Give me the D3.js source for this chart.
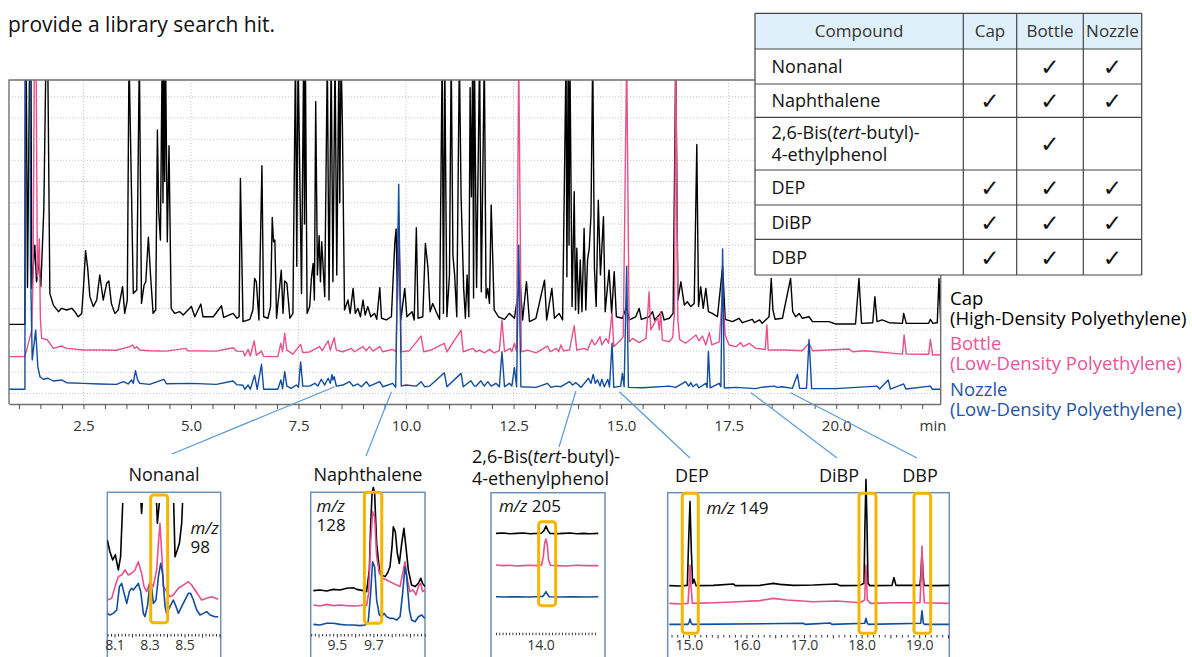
<!DOCTYPE html>
<html><head><meta charset="utf-8">
<script src="https://cdn.jsdelivr.net/npm/d3@7"></script>
<style>
body{margin:0;background:#fff;}
svg{display:block;font-family:"Open Sans","Noto Sans",sans-serif;}
</style></head><body>
<svg id="c" width="1192" height="657"></svg>
<script>
// ---------------- DATA ----------------
// Main TIC chromatograms: [retention time (min), relative intensity]
const capTrace = [[0.77,32.6],[1.14,32.6],[1.15,160],[1.17,160],[1.20,50],[1.25,160],[1.28,160],[1.30,49.6],[1.37,70],[1.41,52.7],[1.47,62.2],[1.51,50.4],[1.58,87.3],[1.63,160],[1.67,160],[1.72,47.2],[1.80,41.7],[1.92,38.6],[1.99,40.2],[2.11,39.4],[2.23,40.2],[2.30,38.6],[2.38,36.2],[2.46,37.8],[2.50,49.6],[2.55,67.4],[2.60,59],[2.65,45.7],[2.73,41],[2.81,44.1],[2.88,55.9],[2.96,44.1],[3.04,52],[3.09,53.1],[3.15,42.5],[3.23,37.8],[3.31,39.4],[3.41,50.4],[3.46,37.8],[3.52,44.1],[3.56,160],[3.66,47.2],[3.74,48.8],[3.80,160],[3.85,42.5],[3.91,51.2],[3.95,52.7],[4.01,73.7],[4.06,55.9],[4.12,37.8],[4.18,39.4],[4.22,124.3],[4.25,85.8],[4.29,72.4],[4.33,160],[4.35,90],[4.37,160],[4.39,100],[4.41,160],[4.45,71.6],[4.49,116.9],[4.54,40.2],[4.62,37.8],[4.74,38.6],[4.82,37],[5.01,41],[5.09,36.2],[5.23,42.2],[5.28,36.2],[5.52,36.2],[5.71,41.4],[5.76,35.9],[5.98,37.8],[6.07,35.5],[6.12,36.2],[6.15,101.5],[6.21,33.9],[6.37,35],[6.44,39.4],[6.48,54.3],[6.52,52.7],[6.58,34.7],[6.65,107.5],[6.69,36.2],[6.79,35.5],[6.85,41],[6.89,83.1],[6.92,71.6],[6.95,72.4],[6.99,35.5],[7.10,58.2],[7.14,37.8],[7.18,53.1],[7.23,52],[7.30,35.5],[7.37,37.8],[7.43,160],[7.46,60],[7.49,160],[7.57,47.2],[7.62,160],[7.64,80],[7.66,160],[7.70,37.8],[7.76,41],[7.80,54.3],[7.84,61.4],[7.87,44.1],[7.90,137.7],[7.94,55.9],[7.98,74.5],[8.01,52.7],[8.04,71.6],[8.07,60.6],[8.11,45.7],[8.17,160],[8.21,44.1],[8.26,160],[8.30,52.7],[8.35,160],[8.39,55.9],[8.44,160],[8.46,90],[8.49,160],[8.52,128.2],[8.57,39.4],[8.65,44.1],[8.70,37.8],[8.77,49.6],[8.82,37.8],[8.88,40.2],[8.94,36.2],[9.00,44.1],[9.05,37],[9.11,41],[9.18,36.2],[9.27,37.8],[9.32,35],[9.39,49.9],[9.43,35.5],[9.54,34.7],[9.66,36.2],[9.74,71.6],[9.77,77.6],[9.80,44.1],[9.83,76.3],[9.88,34.7],[9.97,49.6],[10.02,36.2],[10.14,38.6],[10.19,34.7],[10.24,78.2],[10.28,35.5],[10.39,36.2],[10.45,70.8],[10.51,59.3],[10.56,38.6],[10.62,42.5],[10.70,38.6],[10.78,35],[10.84,160],[10.87,37.8],[10.90,160],[10.95,36.2],[11.01,55.9],[11.05,160],[11.09,65.3],[11.13,55.9],[11.18,36.2],[11.24,160],[11.28,92.8],[11.34,49.6],[11.38,35.5],[11.42,55.9],[11.46,36.2],[11.49,144.3],[11.52,92.8],[11.55,160],[11.57,45],[11.59,160],[11.64,50],[11.71,160],[11.75,48],[11.82,160],[11.86,45],[11.90,49.6],[11.94,42.5],[11.98,88.9],[12.05,39.4],[12.15,36.2],[12.29,35],[12.40,37.8],[12.52,35.5],[12.65,53.5],[12.71,34.7],[12.80,52.7],[12.87,33.9],[13.02,35.5],[13.22,53.5],[13.27,34.7],[13.39,49.6],[13.45,35.5],[13.56,37.8],[13.64,34.7],[13.72,160],[13.74,55.1],[13.77,160],[13.79,70],[13.81,160],[13.86,41],[13.91,95.2],[13.94,39.4],[13.97,68.5],[14.01,37.8],[14.05,63],[14.09,38.6],[14.14,77.9],[14.18,39.4],[14.22,63],[14.26,68.5],[14.30,84.2],[14.34,160],[14.38,59],[14.42,41],[14.47,91.2],[14.52,55.9],[14.59,83.4],[14.63,38.6],[14.72,58.3],[14.78,37.8],[14.84,57.5],[14.89,36.2],[15.03,35.5],[15.13,41],[15.19,34.7],[15.34,36.2],[15.42,40.2],[15.47,35],[15.65,36.2],[15.73,38.6],[15.78,34.7],[15.95,38.6],[16.00,34.7],[16.12,35.5],[16.21,37.8],[16.27,160],[16.32,44.1],[16.39,52.7],[16.47,41.7],[16.54,43.3],[16.62,41],[16.70,42.5],[16.76,117.5],[16.80,41],[16.85,50.4],[16.91,40.2],[16.97,49.6],[17.03,38.6],[17.12,37.8],[17.24,36.2],[17.36,60],[17.42,35],[17.59,33.9],[17.74,35.5],[17.82,33.4],[18.05,35],[18.10,33.4],[18.22,34.7],[18.28,33.1],[18.44,36.2],[18.49,54.3],[18.53,39.4],[18.58,35],[18.75,35.5],[18.94,54.3],[18.99,38.6],[19.06,36.2],[19.14,37.8],[19.21,35.5],[19.37,36.2],[19.45,33.9],[19.83,33.9],[19.99,32.8],[20.45,32.8],[20.53,54.3],[20.59,33.1],[20.85,33.4],[20.90,45.7],[20.95,33.9],[21.07,34.7],[21.23,33.4],[21.54,33.1],[21.57,37.8],[21.63,33.1],[22.15,33.1],[22.19,35],[22.25,33.1],[22.35,33.4],[22.39,54.3],[22.43,33]];

const bottleTrace = [[0.77,17.4],[1.14,17.4],[1.20,22],[1.30,30],[1.33,55],[1.36,160],[1.40,160],[1.43,55],[1.475,73],[1.50,35],[1.53,26],[1.65,25.5],[1.72,23.7],[1.80,21.3],[1.99,22.4],[2.11,21.3],[2.50,20.5],[2.88,20.5],[3.27,20.4],[3.58,22.1],[3.64,22.9],[3.69,21.3],[3.74,22.1],[3.81,20.5],[4.04,20.2],[4.43,20],[4.88,21.3],[4.93,20.2],[5.59,20],[5.98,21.6],[6.06,20],[6.21,19.9],[6.25,17.7],[6.33,20.8],[6.38,17.7],[6.47,24.8],[6.52,18],[6.64,20],[6.69,17.5],[7.02,17.4],[7.09,23.7],[7.13,19.7],[7.18,28.4],[7.23,20.5],[7.37,18.6],[7.55,23.2],[7.60,19.3],[7.76,19.6],[7.99,22.1],[8.05,20.2],[8.19,24.8],[8.24,20.5],[8.33,26.3],[8.38,20.5],[8.53,19.7],[8.73,21.3],[8.80,19.7],[9.00,22.1],[9.07,20.2],[9.15,22.1],[9.23,20],[9.39,22.1],[9.46,19.7],[9.69,20.8],[9.77,19.7],[9.83,85],[9.89,19.7],[10.08,20.2],[10.35,27.1],[10.41,19.7],[10.58,20.5],[10.89,23.7],[10.95,19.7],[11.28,29.9],[11.33,19.7],[11.55,21.3],[11.63,19.7],[11.71,20.5],[11.82,19.2],[11.94,20.8],[12.05,19.2],[12.17,20.2],[12.23,34.7],[12.29,19.7],[12.42,21.3],[12.46,19.7],[12.52,23.7],[12.57,19.7],[12.62,160],[12.68,19.7],[12.83,20.5],[13.02,19.2],[13.29,22.4],[13.35,19.7],[13.49,21.3],[13.55,19.7],[13.60,22.9],[13.66,20.2],[13.80,20.5],[13.91,32],[13.97,20.5],[14.14,21.3],[14.22,20.5],[14.32,25.5],[14.38,22.9],[14.42,23.7],[14.51,26.8],[14.55,22.9],[14.65,26],[14.71,23.7],[14.79,37.8],[14.83,22.1],[14.99,25.2],[15.05,26.8],[15.13,160],[15.19,24.4],[15.27,26],[15.42,24],[15.58,26],[15.62,37.8],[15.65,48],[15.69,30],[15.77,33.1],[15.85,35.9],[15.89,30],[15.92,38.6],[15.96,25.2],[16.12,24.4],[16.20,26.5],[16.24,37.8],[16.27,160],[16.32,34.7],[16.36,25.5],[16.50,23.7],[16.74,27.6],[16.81,24.9],[16.89,27.1],[16.97,22.9],[17.05,28.7],[17.11,22.9],[17.28,24.4],[17.36,48],[17.42,27.6],[17.51,22.9],[17.67,22.1],[17.78,24],[17.84,22.1],[17.98,23.7],[18.13,21.3],[18.35,20.8],[18.39,32.3],[18.42,20.5],[18.83,20.5],[19.21,20.2],[19.37,23.7],[19.45,20.2],[20.30,21],[20.38,19.7],[20.68,20.2],[21.54,18.6],[21.58,27.6],[21.63,18.6],[22.15,18.5],[22.19,25.5],[22.24,18.2],[22.43,18.3]];

const nozzleTrace = [[0.77,2],[1.14,2],[1.15,160],[1.26,160],[1.27,60],[1.31,15.8],[1.39,29.9],[1.44,12.7],[1.49,7.9],[1.57,6.7],[1.68,7.2],[1.80,5.9],[1.99,6.4],[2.11,5.1],[2.50,4.8],[2.88,4.5],[3.27,4.3],[3.43,5.6],[3.54,4.5],[3.62,6.4],[3.66,4.8],[3.71,10.8],[3.76,6.4],[3.81,4.8],[4.04,4.3],[4.37,6.7],[4.43,4.6],[5.01,4.8],[5.59,4.3],[5.98,5.9],[6.06,4.2],[6.21,3.9],[6.25,2],[6.33,4],[6.38,2],[6.48,8.6],[6.54,2],[6.64,13.8],[6.69,2],[7.02,2],[7.09,6.4],[7.13,2.3],[7.18,10.3],[7.23,3.5],[7.33,2.4],[7.45,4],[7.50,2.9],[7.55,14.9],[7.60,3.5],[7.76,3.5],[7.88,4.8],[7.95,3.5],[8.03,6.7],[8.11,4],[8.19,7.2],[8.24,4.8],[8.28,9],[8.30,6.4],[8.33,7.9],[8.38,3.5],[8.53,4],[8.69,5.6],[8.77,3.5],[8.88,4.5],[8.96,3.2],[9.08,5.6],[9.15,3.5],[9.39,5.6],[9.46,3.2],[9.69,4.8],[9.76,2.9],[9.83,98.8],[9.89,3.5],[10.00,4],[10.24,3.5],[10.35,5.6],[10.43,3.2],[10.55,3.5],[10.89,9.8],[10.95,3.2],[11.28,9.5],[11.33,3.2],[11.51,6],[11.59,3.5],[11.63,3.5],[11.74,6],[11.82,3.5],[11.90,5.6],[11.98,3.5],[12.09,4.8],[12.17,3.2],[12.23,19.7],[12.29,3.2],[12.40,4.8],[12.46,3.5],[12.52,12.3],[12.57,3.2],[12.62,70],[12.67,3.2],[13.02,2.9],[13.29,4.8],[13.37,2.9],[13.49,3.5],[13.60,3.2],[13.80,5.6],[13.87,4],[13.95,5.1],[14.07,2.9],[14.24,7.2],[14.30,4.8],[14.35,9],[14.40,4.8],[14.45,6.4],[14.51,3.5],[14.55,6.7],[14.61,3.2],[14.69,6.7],[14.73,3.2],[14.79,23.7],[14.83,2.9],[14.99,3.5],[15.03,9.5],[15.07,3.2],[15.13,60],[15.17,2.9],[15.50,2.7],[16.12,3.5],[16.27,2.9],[16.50,5.6],[16.57,3.5],[16.62,5.1],[16.67,3.2],[16.75,4.5],[16.81,2.7],[16.97,4.8],[17.00,2.9],[17.03,20],[17.07,2.7],[17.28,4.8],[17.32,3.2],[17.36,68.2],[17.40,2.6],[17.67,2.9],[18.13,2.3],[18.25,2.9],[18.56,3.5],[18.63,2.9],[18.75,3.2],[18.98,2.4],[19.10,9],[19.15,2.4],[19.31,2.4],[19.37,25.5],[19.43,2.3],[19.99,2.3],[20.95,3.5],[21.01,2.1],[21.21,6.4],[21.26,2.1],[21.57,4.5],[21.62,2.1],[22.19,3.5],[22.24,2],[22.43,2]];

const mainMinorTicks = d3.range(1.0, 22.01, 0.5);
const mainTickLabels = [2.5, 5.0, 7.5, 10.0, 12.5, 15.0, 17.5, 20.0];
const gridLevels = [0,10,20,30,40,50,60,70,80,90,100,110,120,130,140];

const seriesNames = ["Cap", "Bottle", "Nozzle"];
const seriesMaterials = ["(High-Density Polyethylene)", "(Low-Density Polyethylene)", "(Low-Density Polyethylene)"];

// Table
const tableHeader = ["Compound", "Cap", "Bottle", "Nozzle"];
const tableCompounds = ["Nonanal", "Naphthalene", "2,6-Bis(tert-butyl)-\n4-ethylphenol", "DEP", "DiBP", "DBP"];
const capFound    = [0, 1, 0, 1, 1, 1];
const bottleFound = [1, 1, 1, 1, 1, 1];
const nozzleFound = [1, 1, 0, 1, 1, 1];

// Callouts: retention time at which each callout leaves the main chart, and level
const calloutTimes  = [8.34, 9.66, 13.95, 14.96, 18.02, 18.94];
const calloutLevels = [3.2, 0.8, 1.2, 0.8, 0.4, 0.4];
const insetTitles = ["Nonanal", "Naphthalene", "2,6-Bis(tert-butyl)-\n4-ethenylphenol", "DEP", "DiBP", "DBP"];

// Inset 1: Nonanal, m/z 98
const nonanalMz = "98";
const nonanalCap = [[8.056,64.3],[8.071,55.9],[8.087,50],[8.102,53.6],[8.119,42.9],[8.132,52.4],[8.144,90.5],[8.151,102.4],[8.243,102.4],[8.252,83.3],[8.262,102.4],[8.334,102.4],[8.342,76.2],[8.353,90.5],[8.361,102.4],[8.433,102.4],[8.443,52.4],[8.456,57.1],[8.468,61.9],[8.481,76.2],[8.49,102.4]];
const nonanalBottle = [[8.056,21.4],[8.081,22.6],[8.100,31],[8.119,38.1],[8.138,39.3],[8.157,42.9],[8.176,39.3],[8.195,40.5],[8.214,42.9],[8.233,48.8],[8.252,40.5],[8.266,31],[8.281,27.4],[8.300,34.5],[8.319,31],[8.338,42.9],[8.348,61.9],[8.357,76.2],[8.367,54.8],[8.376,31],[8.395,27.4],[8.414,23.8],[8.433,25],[8.462,29.8],[8.490,32.1],[8.519,34.5],[8.538,32.1],[8.557,28.6],[8.576,25],[8.595,21.4],[8.624,22.6],[8.653,23.8],[8.690,21.9]];
const nonanalNozzle = [[8.056,11.9],[8.071,10.7],[8.090,11.9],[8.110,14.3],[8.125,31],[8.138,33.3],[8.152,26.2],[8.167,19],[8.182,27.4],[8.195,29.8],[8.205,28.6],[8.220,31],[8.233,33.3],[8.247,27.4],[8.262,11.9],[8.271,9.5],[8.285,16.7],[8.300,33.3],[8.310,29.8],[8.319,19],[8.334,21.4],[8.348,38.1],[8.361,47.6],[8.372,40.5],[8.386,16.7],[8.395,11.9],[8.414,16.7],[8.433,21.4],[8.449,16.7],[8.462,11.9],[8.490,19],[8.519,26.2],[8.532,26.2],[8.548,21.4],[8.567,14.3],[8.586,10.7],[8.605,11.9],[8.624,13.1],[8.643,10.7],[8.671,9.5],[8.690,9.5]];
const nonanalWindow = [8.304, 8.401];
const nonanalTickLabels = [8.1, 8.3, 8.5];

// Inset 2: Naphthalene, m/z 128
const naphMz = "128";
const naphCap = [[9.369,28.1],[9.405,28.6],[9.442,27.9],[9.478,29],[9.515,28.6],[9.551,29.8],[9.588,30.2],[9.606,29],[9.642,28.1],[9.660,27.4],[9.675,42.9],[9.682,73.8],[9.690,97.6],[9.697,101.9],[9.704,97.6],[9.715,61.9],[9.730,42.9],[9.743,39.3],[9.761,38.1],[9.774,40.5],[9.788,45.2],[9.799,59.5],[9.806,73.8],[9.817,70.2],[9.828,54.8],[9.839,47.6],[9.852,61.9],[9.864,72.6],[9.875,59.5],[9.888,42.9],[9.906,32.1],[9.925,31],[9.943,33.3],[9.956,36.9],[9.966,33.3],[9.979,31]];
const naphBottle = [[9.369,17.9],[9.405,17.1],[9.442,18.3],[9.478,17.4],[9.515,17.9],[9.551,17.4],[9.606,17.1],[9.642,17.9],[9.660,17.4],[9.671,26.2],[9.682,61.9],[9.693,84.5],[9.704,81],[9.715,52.4],[9.730,40.5],[9.748,36.9],[9.770,35.7],[9.788,34.5],[9.806,33.3],[9.824,32.1],[9.843,31],[9.857,40.5],[9.870,48.8],[9.883,35.7],[9.897,27.4],[9.915,28.6],[9.930,25],[9.943,31],[9.956,33.3],[9.966,27.4],[9.979,28.6]];
const naphNozzle = [[9.369,4],[9.405,3.6],[9.442,4.8],[9.478,4.8],[9.515,4],[9.551,3.6],[9.588,3.6],[9.624,3.1],[9.651,3.6],[9.669,5.9],[9.682,26.2],[9.693,48.8],[9.704,45.2],[9.715,21.4],[9.730,10.7],[9.743,9.5],[9.755,11.9],[9.770,9.5],[9.788,8.3],[9.806,8.3],[9.824,7.1],[9.843,9.5],[9.857,26.2],[9.870,45.2],[9.879,38.1],[9.894,14.3],[9.906,7.1],[9.925,5.9],[9.943,9.5],[9.961,10.7],[9.979,8.3]];
const naphWindow = [9.648, 9.743];
const naphTickLabels = [9.5, 9.7];

// Inset 3: 2,6-Bis(tert-butyl)-4-ethenylphenol, m/z 205
const bisMz = "205";
const bisCap = [[13.727,69],[13.772,69.3],[13.812,68.8],[13.852,69],[13.893,69.3],[13.933,68.8],[13.974,69],[14.004,69.3],[14.018,71],[14.030,74.3],[14.042,71],[14.054,69],[14.095,68.8],[14.135,69],[14.176,69.3],[14.216,68.8],[14.256,69],[14.297,68.8],[14.347,69]];
const bisBottle = [[13.727,46.4],[13.772,46],[13.812,46.2],[13.852,45.7],[13.893,46],[13.933,46.2],[13.974,46],[14.004,46.4],[14.014,52.4],[14.022,61.9],[14.030,65],[14.038,60.7],[14.046,50],[14.058,46.2],[14.095,46],[14.155,45.7],[14.216,46.2],[14.277,46],[14.347,46]];
const bisNozzle = [[13.727,23.8],[13.792,23.6],[13.852,23.8],[13.913,23.6],[13.974,23.8],[14.010,24],[14.022,25.7],[14.030,27.4],[14.038,25.7],[14.050,23.8],[14.115,23.6],[14.196,23.8],[14.277,23.6],[14.347,23.8]];
const bisWindow = [13.986, 14.089];
const bisTickLabels = [14.0];

// Inset 4: phthalates, m/z 149
const phthMz = "149";
const phthCap = [[14.653,31.7],[14.838,31.4],[14.966,31.9],[14.989,64.3],[15.012,91.7],[15.035,57.1],[15.058,33.3],[15.081,36.2],[15.116,31.7],[15.417,31.9],[15.764,32.9],[15.799,31.7],[16.227,31.9],[16.459,33.3],[16.575,32.6],[16.806,31.9],[17.153,32.1],[17.558,32.9],[17.616,31.7],[17.963,31.9],[18.033,33.3],[18.050,76.2],[18.067,107.6],[18.085,76.2],[18.102,33.3],[18.137,31.7],[18.519,31.9],[18.553,37.4],[18.588,31.9],[19.005,31.9],[19.022,40.5],[19.040,55.9],[19.057,40.5],[19.075,31.9],[19.294,31.7],[19.514,31.9]];
const phthBottle = [[14.653,19],[14.838,18.6],[14.977,19],[15.0,33.3],[15.012,46.4],[15.030,31],[15.053,19],[15.417,19.5],[15.764,20],[16.227,21],[16.459,22.6],[16.690,21.4],[17.153,20.2],[17.558,20.7],[17.963,19.5],[18.044,21.4],[18.067,46.4],[18.091,21.4],[18.148,19],[18.542,19.5],[19.005,19.5],[19.022,35.7],[19.040,60],[19.057,35.7],[19.080,19.5],[19.514,19]];
const phthNozzle = [[14.653,4],[14.977,4],[15.0,5.9],[15.012,7.9],[15.030,5.2],[15.053,4],[16.979,4.8],[17.009,4],[17.443,5],[17.477,4],[18.044,4.8],[18.067,8.3],[18.091,4.8],[18.114,4],[19.017,4.8],[19.040,13.8],[19.063,4.8],[19.086,4],[19.514,4]];
const phthWindows = [[14.878, 15.156], [17.946, 18.241], [18.901, 19.191]];
const phthTickLabels = [15.0, 16.0, 17.0, 18.0, 19.0];

// ---------------- DRAWING ----------------
const COL = {cap: "#000000", bottle: "#e8508c", nozzle: "#104ca0"};
const svg = d3.select("#c");
const defs = svg.append("defs");

svg.append("text").attr("x", 8).attr("y", 32).attr("font-size", 21).attr("fill", "#111")
  .text("provide a library search hit.");

// main scales
const x = d3.scaleLinear().domain([0.77, 22.43]).range([9, 940.7]);
const y = d3.scaleLinear().domain([-4.95, 147.9]).range([404, 80]);

defs.append("clipPath").attr("id", "mainClip").append("rect")
  .attr("x", x.range()[0]).attr("y", y.range()[1])
  .attr("width", x.range()[1] - x.range()[0]).attr("height", y.range()[0] - y.range()[1]);

// grid
const grid = svg.append("g");
grid.selectAll("line.h").data(gridLevels).join("line").attr("class", "h")
  .attr("x1", x.range()[0]).attr("x2", x.range()[1])
  .attr("y1", d => y(d)).attr("y2", d => y(d))
  .attr("stroke", "#c9c9c9").attr("stroke-width", 1).attr("stroke-dasharray", "1.2,1.8");
grid.selectAll("line.v").data(mainTickLabels).join("line").attr("class", "v")
  .attr("x1", d => x(d)).attr("x2", d => x(d))
  .attr("y1", y.range()[1]).attr("y2", y.range()[0])
  .attr("stroke", "#c9c9c9").attr("stroke-width", 1).attr("stroke-dasharray", "1.2,1.8");

// traces
const mainLine = d3.line().x(d => x(d[0])).y(d => y(d[1]));
const tg = svg.append("g").attr("clip-path", "url(#mainClip)");
[[capTrace, COL.cap], [bottleTrace, COL.bottle], [nozzleTrace, COL.nozzle]].forEach(([data, c]) => {
  tg.append("path").datum(data).attr("d", mainLine).attr("fill", "none")
    .attr("stroke", c).attr("stroke-width", 1.4).attr("stroke-linejoin", "round");
});

// frame
svg.append("path")
  .attr("d", `M${x.range()[0]},${y.range()[0]}V${y.range()[1]}H${x.range()[1]}V${y.range()[0]}`)
  .attr("fill", "none").attr("stroke", "#707070").attr("stroke-width", 1.4);

// axis
const axis = d3.axisBottom(x).tickValues(mainMinorTicks).tickSize(5).tickSizeOuter(0).tickPadding(11)
  .tickFormat(d => mainTickLabels.includes(d) ? d.toFixed(1) : "");
const ag = svg.append("g").attr("transform", `translate(0,${y.range()[0]})`).call(axis);
ag.select(".domain").attr("stroke", "#707070").attr("stroke-width", 1.4);
ag.selectAll(".tick line").attr("stroke", "#555");
ag.selectAll("text").attr("font-size", 15).attr("fill", "#333").attr("font-family", '"Open Sans","Noto Sans",sans-serif');
svg.append("text").attr("x", 933).attr("y", 431).attr("text-anchor", "middle")
  .attr("font-size", 15).attr("fill", "#333").text("min");

// legend
const legendColors = [COL.cap, "#e8559a", "#1f57a6"];
const legendY = [305, 350, 396];
seriesNames.forEach((n, i) => {
  const t = svg.append("text").attr("x", 950).attr("y", legendY[i]).attr("font-size", 18.5).attr("fill", legendColors[i]);
  t.append("tspan").attr("x", 950).text(n);
  t.append("tspan").attr("x", 950).attr("dy", 20).text(seriesMaterials[i]);
});

// table
const colX = [755, 963.3, 1016.7, 1083.3, 1141.7];
const rowY = [13.3, 49, 84, 117.3, 170, 205, 239.3, 275];
const tbl = svg.append("g");
tbl.append("rect").attr("x", colX[0]).attr("y", rowY[0]).attr("width", colX[4] - colX[0]).attr("height", rowY[7] - rowY[0]).attr("fill", "#fff");
tbl.append("rect").attr("x", colX[0]).attr("y", rowY[0]).attr("width", colX[4] - colX[0]).attr("height", rowY[1] - rowY[0]).attr("fill", "#dff0fb");
rowY.forEach(r => tbl.append("line").attr("x1", colX[0]).attr("x2", colX[4]).attr("y1", r).attr("y2", r).attr("stroke", "#444").attr("stroke-width", 1.2));
colX.forEach(c => tbl.append("line").attr("x1", c).attr("x2", c).attr("y1", rowY[0]).attr("y2", rowY[7]).attr("stroke", "#444").attr("stroke-width", 1.2));
tableHeader.forEach((h, i) => {
  tbl.append("text").attr("x", (colX[i] + colX[i + 1]) / 2).attr("y", (rowY[0] + rowY[1]) / 2 + 6)
    .attr("text-anchor", "middle").attr("font-size", 17).attr("fill", "#333").text(h);
});
function richText(sel, str) {
  const parts = str.split("tert");
  parts.forEach((p, k) => {
    if (k > 0) sel.append("tspan").attr("font-style", "italic").text("tert");
    sel.append("tspan").text(p);
  });
}
tableCompounds.forEach((c, i) => {
  const lines = c.split("\n");
  const cy = (rowY[i + 1] + rowY[i + 2]) / 2;
  lines.forEach((ln, k) => {
    const t = tbl.append("text").attr("x", 771.5)
      .attr("y", cy + 6.5 + (k - (lines.length - 1) / 2) * 22)
      .attr("font-size", 18).attr("fill", "#111");
    richText(t, ln);
  });
  [capFound, bottleFound, nozzleFound].forEach((arr, j) => {
    if (arr[i]) tbl.append("text").attr("x", (colX[j + 1] + colX[j + 2]) / 2).attr("y", cy + 8.5)
      .attr("text-anchor", "middle").attr("font-size", 23).attr("font-family", "DejaVu Sans")
      .attr("fill", "#111").text("\u2713");
  });
});

// callouts
const calloutEnds = [[172, 454], [366, 456], [559, 447], [690, 458], [837, 458], [917, 458]];
calloutTimes.forEach((t, i) => {
  svg.append("line").attr("x1", x(t)).attr("y1", y(calloutLevels[i]))
    .attr("x2", calloutEnds[i][0]).attr("y2", calloutEnds[i][1])
    .attr("stroke", "#5b9bd5").attr("stroke-width", 1.2);
});

// inset titles
const titlePos = [[164, 481, "middle"], [368, 481, "middle"], [472, 463, "start"], [692, 482, "middle"], [839, 482, "middle"], [920, 482, "middle"]];
insetTitles.forEach((s, i) => {
  const lines = s.split("\n");
  lines.forEach((ln, k) => {
    const t = svg.append("text").attr("x", titlePos[i][0]).attr("y", titlePos[i][1] + k * 22)
      .attr("text-anchor", titlePos[i][2]).attr("font-size", 18).attr("fill", "#111");
    richText(t, ln);
  });
});

// insets
function drawInset(cfg) {
  const g = svg.append("g");
  const ix = d3.scaleLinear().domain(cfg.xDom).range(cfg.xRng);
  const iy = d3.scaleLinear().domain([0, 100]).range([630, 490]);
  const id = "clip" + cfg.id;
  defs.append("clipPath").attr("id", id).append("rect")
    .attr("x", cfg.box[0]).attr("y", cfg.clipTop).attr("width", cfg.box[1] - cfg.box[0]).attr("height", 660 - cfg.clipTop);
  g.append("rect").attr("x", cfg.box[0]).attr("y", cfg.box[2]).attr("width", cfg.box[1] - cfg.box[0]).attr("height", 680 - cfg.box[2])
    .attr("fill", "#fff").attr("stroke", "#6d8fb5").attr("stroke-width", 1.5);
  const tk = g.append("g");
  cfg.ticks.forEach(t => {
    const major = Math.abs(Math.round(t / cfg.majorStep) * cfg.majorStep - t) < 1e-6;
    tk.append("line").attr("x1", ix(t)).attr("x2", ix(t)).attr("y1", cfg.tickY).attr("y2", cfg.tickY + (major ? 3.5 : 2.5))
      .attr("stroke", "#333").attr("stroke-width", 1);
  });
  cfg.labels.forEach(l => g.append("text").attr("x", ix(l)).attr("y", 650).attr("text-anchor", "middle")
    .attr("font-size", 14).attr("fill", "#333").text(l.toFixed(1)));
  const ln = d3.line().x(d => ix(d[0])).y(d => iy(d[1]));
  const tg2 = g.append("g").attr("clip-path", `url(#${id})`);
  [[cfg.cap, COL.cap], [cfg.bottle, COL.bottle], [cfg.nozzle, COL.nozzle]].forEach(([d, c]) => {
    tg2.append("path").datum(d).attr("d", ln).attr("fill", "none").attr("stroke", c).attr("stroke-width", 1.6).attr("stroke-linejoin", "round");
  });
  cfg.windows.forEach(w => {
    g.append("rect").attr("x", ix(w[0])).attr("y", iy(cfg.winV[1])).attr("width", ix(w[1]) - ix(w[0]))
      .attr("height", iy(cfg.winV[0]) - iy(cfg.winV[1])).attr("rx", 3)
      .attr("fill", "none").attr("stroke", "#f5b400").attr("stroke-width", 3);
  });
  const mz = g.append("text").attr("font-size", 17).attr("fill", "#111");
  if (cfg.mzSplit) {
    mz.append("tspan").attr("x", cfg.mzPos[0]).attr("y", cfg.mzPos[1]).attr("font-style", "italic").text("m/z");
    mz.append("tspan").attr("x", cfg.mzPos[0]).attr("y", cfg.mzPos[1] + 19).text(cfg.mz);
  } else {
    mz.attr("x", cfg.mzPos[0]).attr("y", cfg.mzPos[1]);
    mz.append("tspan").attr("font-style", "italic").text("m/z");
    mz.append("tspan").text(" " + cfg.mz);
  }
}

drawInset({id: 1, box: [107.3, 220.7, 492.3], clipTop: 503, xDom: [8.1, 8.5], xRng: [115, 185],
  cap: nonanalCap, bottle: nonanalBottle, nozzle: nonanalNozzle, windows: [nonanalWindow], winV: [5.2, 96.4],
  ticks: d3.range(8.06, 8.705, 0.02), majorStep: 0.1, labels: nonanalTickLabels, tickY: 634,
  mz: nonanalMz, mzSplit: true, mzPos: [190.5, 534]});
drawInset({id: 2, box: [310.7, 425, 492.3], clipTop: 470, xDom: [9.5, 9.7], xRng: [337.3, 373.9],
  cap: naphCap, bottle: naphBottle, nozzle: naphNozzle, windows: [naphWindow], winV: [4.8, 98.4],
  ticks: d3.range(9.36, 9.985, 0.02), majorStep: 0.1, labels: naphTickLabels, tickY: 634,
  mz: naphMz, mzSplit: true, mzPos: [316.5, 512]});
drawInset({id: 3, box: [491, 605, 492.7], clipTop: 470, xDom: [14.0, 14.2], xRng: [541, 574],
  cap: bisCap, bottle: bisBottle, nozzle: bisNozzle, windows: [bisWindow], winV: [17.4, 77.4],
  ticks: d3.range(13.73, 14.35, 0.02), majorStep: 0.1, labels: bisTickLabels, tickY: 632.7,
  mz: bisMz, mzSplit: false, mzPos: [499, 512]});
drawInset({id: 4, box: [667.7, 949.3, 492.7], clipTop: 470, xDom: [15, 19], xRng: [689.3, 919.7],
  cap: phthCap, bottle: phthBottle, nozzle: phthNozzle, windows: phthWindows, winV: [-2.4, 97.6],
  ticks: d3.range(14.7, 19.51, 0.1), majorStep: 0.5, labels: phthTickLabels, tickY: 635,
  mz: phthMz, mzSplit: false, mzPos: [706.5, 514]});
</script>
</body></html>
